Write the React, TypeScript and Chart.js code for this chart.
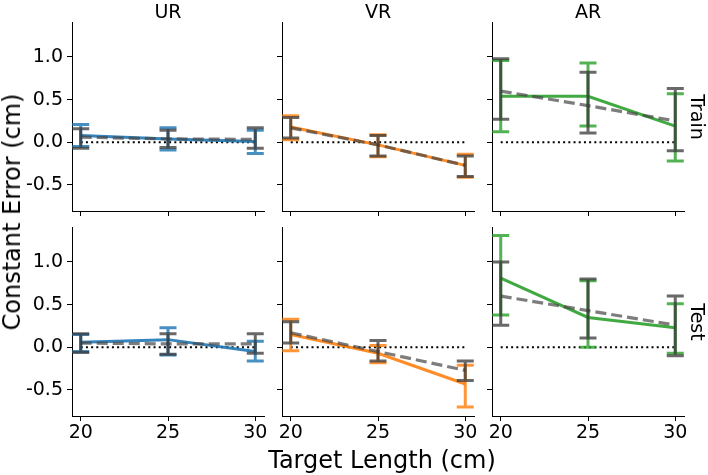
import React, { useEffect, useRef } from "react";
import { Chart, registerables } from "chart.js";

Chart.register(...registerables);

// ---------- data ----------
const targetLengths = [20, 25, 30];
const xTicks = [20, 25, 30];
const yTicks = [-0.5, 0, 0.5, 1.0];
const conditions = ["UR", "VR", "AR"];
const phases = ["Train", "Test"];
const conditionColors = ["#1f77b4", "#ff7f0e", "#2ca02c"];

// Train – observed (coloured) and model (grey dashed)
const urTrainObsMean = [0.08, 0.04, 0.01];
const urTrainObsLo = [-0.05, -0.09, -0.13];
const urTrainObsHi = [0.21, 0.17, 0.14];
const urTrainModelMean = [0.06, 0.04, 0.035];
const urTrainModelLo = [-0.07, -0.06, -0.07];
const urTrainModelHi = [0.16, 0.14, 0.17];

const vrTrainObsMean = [0.18, -0.03, -0.27];
const vrTrainObsLo = [0.03, -0.17, -0.41];
const vrTrainObsHi = [0.31, 0.09, -0.14];
const vrTrainModelMean = [0.17, -0.03, -0.27];
const vrTrainModelLo = [0.05, -0.16, -0.4];
const vrTrainModelHi = [0.29, 0.08, -0.16];

const arTrainObsMean = [0.54, 0.54, 0.19];
const arTrainObsLo = [0.125, 0.19, -0.22];
const arTrainObsHi = [0.96, 0.93, 0.57];
const arTrainModelMean = [0.6, 0.43, 0.25];
const arTrainModelLo = [0.27, 0.11, -0.1];
const arTrainModelHi = [0.98, 0.82, 0.63];

// Test
const urTestObsMean = [0.06, 0.09, -0.05];
const urTestObsLo = [-0.05, -0.09, -0.16];
const urTestObsHi = [0.15, 0.23, 0.07];
const urTestModelMean = [0.05, 0.04, 0.04];
const urTestModelLo = [-0.06, -0.08, -0.07];
const urTestModelHi = [0.16, 0.16, 0.16];

const vrTestObsMean = [0.15, -0.07, -0.43];
const vrTestObsLo = [-0.04, -0.18, -0.7];
const vrTestObsHi = [0.33, 0.02, -0.21];
const vrTestModelMean = [0.17, -0.05, -0.27];
const vrTestModelLo = [0.05, -0.16, -0.39];
const vrTestModelHi = [0.3, 0.08, -0.16];

const arTestObsMean = [0.81, 0.35, 0.23];
const arTestObsLo = [0.38, 0.0, -0.07];
const arTestObsHi = [1.31, 0.78, 0.51];
const arTestModelMean = [0.6, 0.43, 0.26];
const arTestModelLo = [0.26, 0.11, -0.1];
const arTestModelHi = [1.0, 0.8, 0.6];

type Series = { mean: number[]; lo: number[]; hi: number[] };
type PanelData = { obs: Series; model: Series };

const panelTable: PanelData[][] = [
  [
    { obs: { mean: urTrainObsMean, lo: urTrainObsLo, hi: urTrainObsHi }, model: { mean: urTrainModelMean, lo: urTrainModelLo, hi: urTrainModelHi } },
    { obs: { mean: vrTrainObsMean, lo: vrTrainObsLo, hi: vrTrainObsHi }, model: { mean: vrTrainModelMean, lo: vrTrainModelLo, hi: vrTrainModelHi } },
    { obs: { mean: arTrainObsMean, lo: arTrainObsLo, hi: arTrainObsHi }, model: { mean: arTrainModelMean, lo: arTrainModelLo, hi: arTrainModelHi } },
  ],
  [
    { obs: { mean: urTestObsMean, lo: urTestObsLo, hi: urTestObsHi }, model: { mean: urTestModelMean, lo: urTestModelLo, hi: urTestModelHi } },
    { obs: { mean: vrTestObsMean, lo: vrTestObsLo, hi: vrTestObsHi }, model: { mean: vrTestModelMean, lo: vrTestModelLo, hi: vrTestModelHi } },
    { obs: { mean: arTestObsMean, lo: arTestObsLo, hi: arTestObsHi }, model: { mean: arTestModelMean, lo: arTestModelLo, hi: arTestModelHi } },
  ],
];

// ---------- layout ----------
const FONT = "'DejaVu Sans', sans-serif";
const COL_LEFT = [72, 282, 492];
const ROW_TOP = [22, 227];
const AREA_W = 192;
const AREA_H = 189;
const PAD_L = 54;
const PAD_T = 6;
const PAD_R = 14;
const PAD_B = 34;
const TICK_SIZE = 19;

const errorBarPlugin = {
  id: "errorBars",
  afterDatasetDraw(chart: any, args: any) {
    const ds = chart.data.datasets[args.index] as any;
    if (!ds.errLo) return;
    const xs = chart.scales.x;
    const ys = chart.scales.y;
    const ctx = chart.ctx as CanvasRenderingContext2D;
    const cap = 8.5;
    ctx.save();
    ctx.strokeStyle = ds.errColor;
    ctx.lineWidth = ds.errWidth;
    ctx.lineCap = "butt";
    ds.data.forEach((p: any, i: number) => {
      const px = xs.getPixelForValue(p.x);
      const pLo = ys.getPixelForValue(ds.errLo[i]);
      const pHi = ys.getPixelForValue(ds.errHi[i]);
      ctx.beginPath();
      ctx.moveTo(px, pLo);
      ctx.lineTo(px, pHi);
      ctx.moveTo(px - cap, pLo);
      ctx.lineTo(px + cap, pLo);
      ctx.moveTo(px - cap, pHi);
      ctx.lineTo(px + cap, pHi);
      ctx.stroke();
    });
    ctx.restore();
  },
};

function fixScale(size: number, vertical: boolean) {
  return (s: any) => {
    if (vertical) s.width = size;
    else s.height = size;
    s.paddingLeft = 0;
    s.paddingRight = 0;
    s.paddingTop = 0;
    s.paddingBottom = 0;
  };
}

function Panel({ row, col }: { row: number; col: number }) {
  const ref = useRef<HTMLCanvasElement | null>(null);
  useEffect(() => {
    if (!ref.current) return;
    const pd = panelTable[row][col];
    const color = conditionColors[col];
    const toPts = (arr: number[]) => targetLengths.map((x, i) => ({ x, y: arr[i] }));
    const showY = col === 0;
    const showX = row === 1;
    const chart = new Chart(ref.current, {
      type: "line",
      data: {
        datasets: [
          {
            label: "model",
            data: toPts(pd.model.mean),
            borderColor: "rgba(70,70,70,0.7)",
            borderWidth: 3.2,
            borderDash: [11, 5],
            pointRadius: 0,
            fill: false,
            errLo: pd.model.lo,
            errHi: pd.model.hi,
            errColor: "rgba(55,55,55,0.75)",
            errWidth: 3,
          } as any,
          {
            label: "observed",
            data: toPts(pd.obs.mean),
            borderColor: color + "e6",
            borderWidth: 3,
            pointRadius: 0,
            fill: false,
            errLo: pd.obs.lo,
            errHi: pd.obs.hi,
            errColor: color + "d0",
            errWidth: 3,
          } as any,
          {
            label: "zero",
            data: [
              { x: xTicks[0], y: 0 },
              { x: xTicks[xTicks.length - 1], y: 0 },
            ],
            borderColor: "#000",
            borderWidth: 2,
            borderDash: [2, 3.2],
            pointRadius: 0,
            fill: false,
          },
        ],
      },
      options: {
        animation: false,
        responsive: false,
        events: [],
        layout: { padding: { top: PAD_T, right: PAD_R, left: 0, bottom: 0 } },
        plugins: { legend: { display: false }, tooltip: { enabled: false }, title: { display: false } },
        scales: {
          x: {
            type: "linear",
            min: 19.5,
            max: 30.5,
            afterBuildTicks: (s: any) => {
              s.ticks = xTicks.map((v) => ({ value: v }));
            },
            afterFit: fixScale(PAD_B, false),
            grid: { drawOnChartArea: false, drawTicks: true, tickLength: 5, color: "#000", lineWidth: 1 },
            border: { display: true, color: "#000", width: 1 },
            ticks: {
              color: showX ? "#000" : "rgba(0,0,0,0)",
              font: { family: FONT, size: TICK_SIZE },
              padding: 1,
              maxRotation: 0,
              autoSkip: false,
              callback: (v: any) => String(v),
            },
          },
          y: {
            type: "linear",
            min: -0.805,
            max: 1.41,
            afterBuildTicks: (s: any) => {
              s.ticks = yTicks.map((v) => ({ value: v }));
            },
            afterFit: fixScale(PAD_L, true),
            grid: { drawOnChartArea: false, drawTicks: true, tickLength: 5, color: "#000", lineWidth: 1 },
            border: { display: true, color: "#000", width: 1 },
            ticks: {
              color: showY ? "#000" : "rgba(0,0,0,0)",
              font: { family: FONT, size: TICK_SIZE },
              padding: 4,
              autoSkip: false,
              callback: (v: any) => Number(v).toFixed(1),
            },
          },
        },
      },
      plugins: [errorBarPlugin],
    } as any);
    return () => chart.destroy();
  }, [row, col]);

  const w = AREA_W + PAD_L + PAD_R;
  const h = AREA_H + PAD_T + PAD_B;
  return (
    <div
      style={{
        position: "absolute",
        left: COL_LEFT[col] - PAD_L,
        top: ROW_TOP[row] - PAD_T,
        width: w,
        height: h,
      }}
    >
      <canvas ref={ref} width={w} height={h} style={{ width: w, height: h, display: "block" }} />
    </div>
  );
}

function Label({ text, x, y, size, rotate = 0 }: { text: string; x: number; y: number; size: number; rotate?: number }) {
  return (
    <div
      style={{
        position: "absolute",
        left: x,
        top: y,
        transform: `translate(-50%, -50%) rotate(${rotate}deg)`,
        fontFamily: FONT,
        fontSize: size,
        lineHeight: 1,
        whiteSpace: "nowrap",
        color: "#000",
      }}
    >
      {text}
    </div>
  );
}

export default function App() {
  return (
    <div
      style={{
        position: "absolute",
        left: 0,
        top: 0,
        width: 708,
        height: 475,
        background: "#fff",
        overflow: "hidden",
      }}
    >
      {phases.map((_, r) => conditions.map((__, c) => <Panel key={`${r}-${c}`} row={r} col={c} />))}
      {conditions.map((name, c) => (
        <Label key={name} text={name} x={COL_LEFT[c] + AREA_W / 2} y={10.5} size={19} />
      ))}
      {phases.map((name, r) => (
        <Label key={name} text={name} x={697} y={ROW_TOP[r] + AREA_H / 2} size={19} rotate={90} />
      ))}
      <Label text="Constant Error (cm)" x={12} y={212} size={24} rotate={-90} />
      <Label text="Target Length (cm)" x={382} y={460} size={24} />
    </div>
  );
}
